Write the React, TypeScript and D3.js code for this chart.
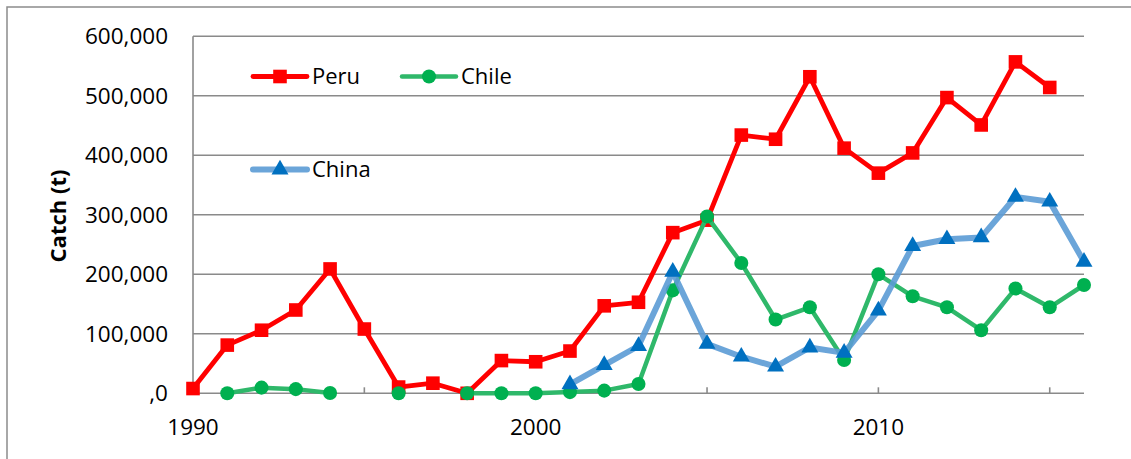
import React from 'react';
import * as d3 from 'd3';

const years = d3.range(1990, 2017);

// null = no data for that year
const peru: (number | null)[] = [
  8000, 81000, 106000, 140000, 209000, 108000, 10500, 17000, 0, 55000,
  53000, 71000, 147000, 153000, 270000, 291000, 434000, 427000, 532000, 412000,
  370000, 404000, 497000, 451000, 557000, 514000, null
];
const chile: (number | null)[] = [
  null, 0, 9500, 7000, 500, null, 0, null, 0, 0,
  0, 2000, 4500, 15600, 173000, 297000, 219000, 124000, 144500, 56000,
  200000, 163000, 144500, 106000, 176000, 144500, 182000
];
const china: (number | null)[] = [
  null, null, null, null, null, null, null, null, null, null,
  null, 15000, 47500, 79500, 204000, 83000, 61500, 44700, 77000, 68000,
  139000, 247500, 259000, 262000, 330000, 322000, 221000
];

const yTicks = [0, 100000, 200000, 300000, 400000, 500000, 600000];
const yTickLabels = [',0', '100,000', '200,000', '300,000', '400,000', '500,000', '600,000'];
const xTicks = [1990, 1995, 2000, 2005, 2010, 2015];
const xLabels = [1990, 2000, 2010];

const FONT = '"Open Sans", "Liberation Sans", sans-serif';

const App: React.FC = () => {
  const svgRef = React.useRef<SVGSVGElement>(null);
  const width = 1131;
  const height = 459;

  React.useEffect(() => {
    if (!svgRef.current) return;
    const svg = d3.select(svgRef.current);
    svg.selectAll('*').remove();

    const x = d3.scaleLinear().domain([1990, 2016]).range([193, 1084]);
    const y = d3.scaleLinear().domain([0, 600000]).range([393.3, 36.3]);

    // outer chart border
    svg.append('rect')
      .attr('x', 7).attr('y', 7)
      .attr('width', 1140).attr('height', 470)
      .attr('fill', '#fff')
      .attr('stroke', '#8c8c8c')
      .attr('stroke-width', 1.5);

    // gridlines
    svg.append('g')
      .selectAll('line')
      .data(yTicks)
      .enter().append('line')
      .attr('x1', x(1990)).attr('x2', x(2016))
      .attr('y1', d => y(d)).attr('y2', d => y(d))
      .attr('stroke', '#8a8a8a')
      .attr('stroke-width', 1.6);

    // y axis line
    svg.append('line')
      .attr('x1', x(1990)).attr('x2', x(1990))
      .attr('y1', y(0)).attr('y2', y(600000))
      .attr('stroke', '#8a8a8a')
      .attr('stroke-width', 1.6);

    // x ticks (inward)
    svg.append('g')
      .selectAll('line')
      .data(xTicks)
      .enter().append('line')
      .attr('x1', d => x(d)).attr('x2', d => x(d))
      .attr('y1', y(0)).attr('y2', y(0) - 6)
      .attr('stroke', '#8a8a8a')
      .attr('stroke-width', 1.6);

    // y tick labels
    svg.append('g')
      .selectAll('text')
      .data(yTicks)
      .enter().append('text')
      .attr('x', 168)
      .attr('y', d => y(d))
      .attr('dy', '0.36em')
      .attr('text-anchor', 'end')
      .attr('font-family', FONT)
      .attr('font-size', 22.5)
      .attr('fill', '#000')
      .text((d, i) => yTickLabels[i]);

    // x labels
    svg.append('g')
      .selectAll('text')
      .data(xLabels)
      .enter().append('text')
      .attr('x', d => x(d))
      .attr('y', 435)
      .attr('text-anchor', 'middle')
      .attr('font-family', FONT)
      .attr('font-size', 22.5)
      .attr('fill', '#000')
      .text(d => String(d));

    // axis title
    svg.append('text')
      .attr('transform', 'translate(66,216) rotate(-90)')
      .attr('text-anchor', 'middle')
      .attr('font-family', FONT)
      .attr('font-weight', 'bold')
      .attr('font-size', 22)
      .attr('fill', '#000')
      .text('Catch (t)');

    const series = [
      { name: 'Peru', values: peru, line: '#ff0000', marker: '#ff0000', shape: 'square', lw: 4.8, op: 1 },
      { name: 'Chile', values: chile, line: '#2fb86a', marker: '#00b050', shape: 'circle', lw: 4.5, op: 1 },
      { name: 'China', values: china, line: '#5b9bd5', marker: '#0070c0', shape: 'triangle', lw: 6, op: 0.9 },
    ];

    const symbolFor = (shape: string) => {
      if (shape === 'square') return d3.symbol().type(d3.symbolSquare).size(185)();
      if (shape === 'circle') return d3.symbol().type(d3.symbolCircle).size(155)();
      return d3.symbol().type(d3.symbolTriangle).size(125)();
    };

    series.forEach(s => {
      const pts = years.map((yr, i) => ({ yr, v: s.values[i] }));
      const line = d3.line<{ yr: number; v: number | null }>()
        .defined(d => d.v !== null)
        .x(d => x(d.yr))
        .y(d => y(d.v as number));

      const g = svg.append('g');
      g.append('path')
        .datum(pts)
        .attr('d', line)
        .attr('fill', 'none')
        .attr('stroke', s.line)
        .attr('stroke-width', s.lw)
        .attr('stroke-opacity', s.op)
        .attr('stroke-linejoin', 'round')
        .attr('stroke-linecap', 'round');

      g.selectAll('path.mark')
        .data(pts.filter(d => d.v !== null))
        .enter().append('path')
        .attr('class', 'mark')
        .attr('d', symbolFor(s.shape))
        .attr('transform', d => `translate(${x(d.yr)},${y(d.v as number)})`)
        .attr('fill', s.marker);
    });

    // legend
    const legend = [
      { s: series[0], lx: 253, ly: 76.5 },
      { s: series[1], lx: 402, ly: 76.5 },
      { s: series[2], lx: 253, ly: 169.5 },
    ];
    legend.forEach(({ s, lx, ly }) => {
      const g = svg.append('g');
      g.append('line')
        .attr('x1', lx).attr('x2', lx + 54)
        .attr('y1', ly).attr('y2', ly)
        .attr('stroke', s.line)
        .attr('stroke-width', s.lw)
        .attr('stroke-opacity', s.op)
        .attr('stroke-linecap', 'round');
      g.append('path')
        .attr('d', symbolFor(s.shape))
        .attr('transform', `translate(${lx + 27},${ly})`)
        .attr('fill', s.marker);
      g.append('text')
        .attr('x', lx + 59)
        .attr('y', ly)
        .attr('dy', '0.36em')
        .attr('font-family', FONT)
        .attr('font-size', 22)
        .attr('fill', '#000')
        .text(s.name);
    });
  }, []);

  return (
    <svg
      ref={svgRef}
      width={width}
      height={height}
      style={{ position: 'absolute', left: 0, top: 0, background: '#fff' }}
    />
  );
};

export default App;
